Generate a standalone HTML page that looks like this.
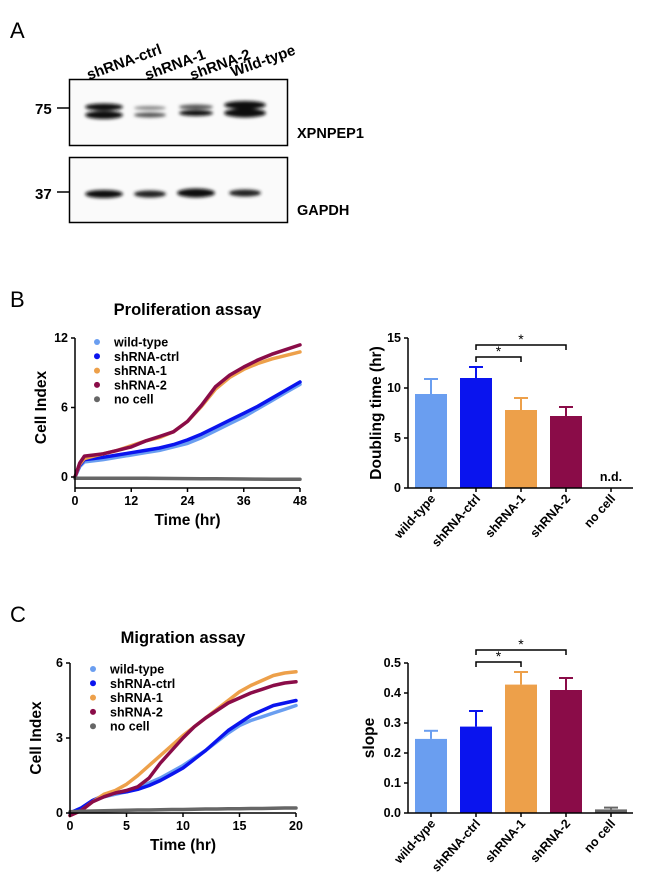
<!DOCTYPE html>
<html><head><meta charset="utf-8"><style>
body{margin:0;background:#fff;}
svg{font-family:"Liberation Sans",Arial,sans-serif;}
</style></head><body>
<svg id="fig" width="650" height="887" viewBox="0 0 650 887" xmlns="http://www.w3.org/2000/svg">
<defs>
<filter id="blur" x="-20%" y="-50%" width="140%" height="200%"><feGaussianBlur stdDeviation="1.6"/></filter>
</defs>
<g>
<text x="10" y="38" font-size="22">A</text>
<g font-size="15" font-weight="bold">
<text transform="translate(89,80) rotate(-20)">shRNA-ctrl</text>
<text transform="translate(147,80) rotate(-20)">shRNA-1</text>
<text transform="translate(192,80) rotate(-20)">shRNA-2</text>
<text transform="translate(233,77) rotate(-20)">Wild-type</text>
</g>
<rect x="69.5" y="79.5" width="218" height="66" fill="#fafafa" stroke="#000" stroke-width="1.5"/>
<rect x="69.5" y="157.5" width="218" height="65" fill="#fafafa" stroke="#000" stroke-width="1.5"/>
<g filter="url(#blur)" fill="#111">
<ellipse cx="104" cy="107" rx="19" ry="3.5"/><ellipse cx="104" cy="115" rx="19" ry="4"/>
<ellipse cx="150" cy="108" rx="16" ry="2" fill="#888"/><ellipse cx="150" cy="115" rx="16" ry="2.5" fill="#555"/>
<ellipse cx="196" cy="107" rx="17" ry="2.5" fill="#555"/><ellipse cx="196" cy="113" rx="17" ry="3"/>
<ellipse cx="245" cy="105" rx="21" ry="4"/><ellipse cx="245" cy="113" rx="21" ry="4.5"/>
<ellipse cx="104" cy="194" rx="19" ry="4"/><ellipse cx="150" cy="194" rx="16" ry="3.5" fill="#222"/>
<ellipse cx="196" cy="193" rx="19" ry="4.5"/><ellipse cx="245" cy="193" rx="16" ry="3.5" fill="#222"/>
</g>
<text x="35" y="114" font-size="15" font-weight="bold">75</text>
<line x1="57" y1="108" x2="69" y2="108" stroke="#000" stroke-width="1.5"/>
<text x="35" y="199" font-size="15" font-weight="bold">37</text>
<line x1="57" y1="192" x2="69" y2="192" stroke="#000" stroke-width="1.5"/>
<text x="297" y="138" font-size="14.5" font-weight="bold">XPNPEP1</text>
<text x="297" y="215" font-size="14.5" font-weight="bold">GAPDH</text>
</g>
<text x="10" y="307" font-size="22">B</text>
<text x="10" y="622" font-size="22">C</text>
<g id="charts"></g>
</svg>
<script>
const seriesNames = ["wild-type","shRNA-ctrl","shRNA-1","shRNA-2","no cell"];
const seriesColors = ["#6a9ef0","#0a14ee","#eda04a","#8a0c48","#666666"];
const profTimes = [0,1,2,4,6,9,12,15,18,21,24,27,30,33,36,39,42,45,48];
const profWild  = [0,0.9,1.3,1.4,1.5,1.7,1.9,2.1,2.3,2.6,2.9,3.4,4.0,4.6,5.2,5.9,6.6,7.3,8.0];
const profCtrl  = [0,1.0,1.5,1.6,1.7,1.9,2.1,2.3,2.5,2.8,3.2,3.7,4.3,4.9,5.5,6.1,6.8,7.5,8.2];
const profSh1   = [0,1.1,1.6,1.8,2.0,2.3,2.7,3.1,3.4,3.9,4.8,6.1,7.6,8.6,9.3,9.8,10.2,10.5,10.8];
const profSh2   = [0,1.2,1.8,1.9,2.0,2.3,2.6,3.1,3.5,3.9,4.8,6.2,7.8,8.8,9.5,10.1,10.6,11.0,11.4];
const profNo    = [-0.1,-0.1,-0.1,-0.1,-0.1,-0.1,-0.1,-0.1,-0.12,-0.13,-0.14,-0.15,-0.15,-0.16,-0.17,-0.18,-0.19,-0.2,-0.2];
const migTimes = [0,1,2,3,4,5,6,7,8,9,10,11,12,13,14,15,16,17,18,19,20];
const migWild  = [0,0.2,0.5,0.65,0.75,0.85,1.0,1.2,1.4,1.65,1.9,2.2,2.5,2.85,3.2,3.5,3.7,3.85,4.0,4.15,4.3];
const migCtrl  = [0,0.2,0.5,0.7,0.8,0.85,0.95,1.1,1.3,1.55,1.8,2.15,2.5,2.9,3.3,3.6,3.9,4.1,4.3,4.4,4.5];
const migSh1   = [-0.1,0.1,0.45,0.75,0.9,1.15,1.5,1.9,2.3,2.7,3.1,3.45,3.8,4.15,4.5,4.85,5.1,5.3,5.5,5.6,5.65];
const migSh2   = [-0.1,0.1,0.45,0.65,0.8,0.9,1.05,1.4,2.0,2.5,3.0,3.45,3.8,4.1,4.4,4.6,4.8,4.95,5.1,5.2,5.25];
const migNo    = [0.05,0.07,0.08,0.09,0.1,0.11,0.12,0.12,0.13,0.14,0.14,0.15,0.16,0.16,0.17,0.17,0.18,0.18,0.19,0.2,0.2];
const barCats = ["wild-type","shRNA-ctrl","shRNA-1","shRNA-2","no cell"];
const dblMeans = [9.4,11.0,7.8,7.2,null];
const dblErrs  = [10.9,12.1,9.0,8.1,null];
const slopeMeans = [0.247,0.288,0.428,0.41,0.012];
const slopeErrs  = [0.274,0.340,0.470,0.450,0.018];
const profTicksX = [0,12,24,36,48];
const profTicksY = [0,6,12];
const migTicksX = [0,5,10,15,20];
const migTicksY = [0,3,6];
const dblTicks = [0,5,10,15];
const slopeTicks = ["0.0","0.1","0.2","0.3","0.4","0.5"];

const NS="http://www.w3.org/2000/svg";
const root=document.getElementById('charts');
function mk(tag,attrs,parent,text){const e=document.createElementNS(NS,tag);for(const k in attrs)e.setAttribute(k,attrs[k]);if(text!==undefined)e.textContent=text;(parent||root).appendChild(e);return e;}

function lineChart(o){
  const g=mk('g',{});
  
  
  const sx=v=>o.x0+(v-o.xmin)/(o.xmax-o.xmin)*(o.x1-o.x0);
  const sy=v=>o.y0-(v-o.ymin)/(o.ymax-o.ymin)*(o.y0-o.y1);
  const t=mk('text',{x:(o.x0+o.x1)/2,y:o.titleY,'text-anchor':'middle','font-size':16.5,'font-weight':'bold'},g,o.title);
  
  
  o.series.forEach((s,i)=>{
    const d=o.times.map((tt,j)=>(j?'L':'M')+sx(tt).toFixed(1)+','+sy(s[j]).toFixed(1)).join(' ');
    const p=mk('path',{d:d,fill:'none',stroke:seriesColors[i],'stroke-width':3.5,'stroke-linejoin':'round','stroke-linecap':'round'},g);
    
    
  });
  const ay=mk('line',{x1:o.x0,y1:sy(o.ymax),x2:o.x0,y2:o.axisY,stroke:'#000','stroke-width':1.5},g);
  
  
  const ax=mk('line',{x1:o.x0,y1:o.axisY,x2:o.x1,y2:o.axisY,stroke:'#000','stroke-width':1.5},g);
  
  
  o.yticks.forEach(v=>{
    mk('line',{x1:o.x0-4,y1:sy(v),x2:o.x0,y2:sy(v),stroke:'#000','stroke-width':1.5},g);
    const tl=mk('text',{x:o.x0-7,y:sy(v)+4,'text-anchor':'end','font-size':12.5,'font-weight':'bold'},g,String(v));
    
    
  });
  o.xticks.forEach(v=>{
    mk('line',{x1:sx(v),y1:o.axisY,x2:sx(v),y2:o.axisY+4,stroke:'#000','stroke-width':1.5},g);
    const tl=mk('text',{x:sx(v),y:o.axisY+17,'text-anchor':'middle','font-size':12.5,'font-weight':'bold'},g,String(v));
    
    
  });
  const xt=mk('text',{x:(o.x0+o.x1)/2,y:o.axisY+37,'text-anchor':'middle','font-size':15.5,'font-weight':'bold'},g,'Time (hr)');
  
  
  const yt=mk('text',{transform:`translate(${o.x0-29},${(sy(o.ymax)+o.y0)/2}) rotate(-90)`,'text-anchor':'middle','font-size':15.5,'font-weight':'bold'},g,'Cell Index');
  
  
  seriesNames.forEach((n,i)=>{
    const le=mk('g',{},g);
    
    
    mk('circle',{cx:o.legX,cy:o.legY+i*14.3,r:3,fill:seriesColors[i]},le);
    mk('text',{x:o.legX+17,y:o.legY+i*14.3+4.5,'font-size':12.5,'font-weight':'bold'},le,n);
  });
}

function barChart(o){
  const g=mk('g',{});
  
  
  const sy=v=>o.y0-(v-0)/o.ymax*(o.y0-o.y1);
  const cx=i=>o.c0+i*o.step;
  o.means.forEach((m,i)=>{
    if(m===null){
      const nd=mk('text',{x:cx(i),y:o.y0-7,'text-anchor':'middle','font-size':12.5,'font-weight':'bold'},g,'n.d.');
      
      
      return;
    }
    const e=o.errs[i];
    mk('line',{x1:cx(i),y1:sy(m),x2:cx(i),y2:sy(e),stroke:seriesColors[i],'stroke-width':2},g);
    mk('line',{x1:cx(i)-7,y1:sy(e),x2:cx(i)+7,y2:sy(e),stroke:seriesColors[i],'stroke-width':2},g);
    const r=mk('rect',{x:cx(i)-16,y:sy(m),width:32,height:o.y0-sy(m),fill:seriesColors[i]},g);
    
    
  });
  const ay=mk('line',{x1:o.x0,y1:o.y1,x2:o.x0,y2:o.y0,stroke:'#000','stroke-width':1.5},g);
  
  
  const ax=mk('line',{x1:o.x0,y1:o.y0,x2:o.x1,y2:o.y0,stroke:'#000','stroke-width':1.5},g);
  
  
  o.ticks.forEach(tv=>{
    const v=parseFloat(tv);
    mk('line',{x1:o.x0-4,y1:sy(v),x2:o.x0,y2:sy(v),stroke:'#000','stroke-width':1.5},g);
    const tl=mk('text',{x:o.x0-7,y:sy(v)+4,'text-anchor':'end','font-size':12.5,'font-weight':'bold'},g,String(tv));
    
    
  });
  barCats.forEach((c,i)=>{
    mk('line',{x1:cx(i),y1:o.y0,x2:cx(i),y2:o.y0+4,stroke:'#000','stroke-width':1.5},g);
    const tl=mk('text',{transform:`translate(${cx(i)+5},${o.y0+11}) rotate(-48)`,'text-anchor':'end','font-size':12.5,'font-weight':'bold'},g,c);
    
    
  });
  const yt=mk('text',{transform:`translate(${o.ytX},${(o.y0+o.y1)/2}) rotate(-90)`,'text-anchor':'middle','font-size':15.5,'font-weight':'bold'},g,o.ytitle);
  
  
  [[1,2,o.brLow],[1,3,o.brHigh]].forEach(b=>{
    const bg=mk('g',{},g);
    
    
    mk('path',{d:`M${cx(b[0])},${b[2]+5}V${b[2]}H${cx(b[1])}V${b[2]+5}`,fill:'none',stroke:'#000','stroke-width':1.5},bg);
    mk('text',{x:(cx(b[0])+cx(b[1]))/2,y:b[2]-1,'text-anchor':'middle','font-size':14},bg,'*');
  });
}

lineChart({name:'proliferation-chart',title:'Proliferation assay',titleY:315,x0:75,x1:300,xmin:0,xmax:48,y0:477,y1:338,ymin:0,ymax:12,axisY:488,
  times:profTimes,series:[profWild,profCtrl,profSh1,profSh2,profNo],xticks:profTicksX,yticks:profTicksY,legX:97,legY:342});
lineChart({name:'migration-chart',title:'Migration assay',titleY:643,x0:70,x1:296,xmin:0,xmax:20,y0:813,y1:663,ymin:0,ymax:6,axisY:813,
  times:migTimes,series:[migWild,migCtrl,migSh1,migSh2,migNo],xticks:migTicksX,yticks:migTicksY,legX:93,legY:669});
barChart({name:'doubling-time-chart',x0:408,x1:633,y0:488,y1:338,ymax:15,c0:431,step:45,means:dblMeans,errs:dblErrs,ticks:dblTicks,ytitle:'Doubling time (hr)',ytX:381,brLow:357,brHigh:345});
barChart({name:'slope-chart',x0:408,x1:633,y0:813,y1:663,ymax:0.5,c0:431,step:45,means:slopeMeans,errs:slopeErrs,ticks:slopeTicks,ytitle:'slope',ytX:374,brLow:662,brHigh:650});
</script>
</body></html>
